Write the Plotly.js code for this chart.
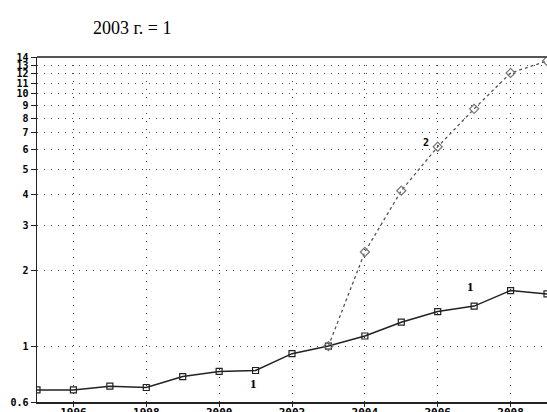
<!DOCTYPE html>
<html><head><meta charset="utf-8">
<script src="https://cdn.plot.ly/plotly-3.0.1.min.js"></script>
<style>body{margin:0;padding:0;background:#fff}#c{width:547px;height:412px}</style>
</head><body><div id="c"></div>
<script>
const years1 = [1995,1996,1997,1998,1999,2000,2001,2002,2003,2004,2005,2006,2007,2008,2009];
const series1 = [0.67,0.67,0.693,0.685,0.757,0.793,0.80,0.933,1.0,1.096,1.243,1.37,1.44,1.66,1.61];
const years2 = [2003,2004,2005,2006,2007,2008,2009];
const series2 = [1.0,2.36,4.13,6.17,8.72,12.1,13.5];
const yTicks = [0.6,1,2,3,4,5,6,7,8,9,10,11,12,13,14];
const yTickLabels = ['0.6','1','2','3','4','5','6','7','8','9','10','11','12','13','14'];
const xTicks = [1996,1998,2000,2002,2004,2006,2008];
const title = '2003 г. = 1';

const tickFont = {family:'DejaVu Sans Mono, monospace', size:10, color:'#000', weight:'bold'};
const traces = [
  {x:years1, y:series1, mode:'lines+markers', type:'scatter',
   line:{color:'#222', width:1.5},
   marker:{symbol:'square-open', size:6, color:'#222', line:{width:1.2}}},
  {x:years2, y:series2, mode:'lines+markers', type:'scatter',
   line:{color:'#555', width:1.3, dash:'dot'},
   marker:{symbol:'diamond-open', size:7, color:'#777', line:{width:1.2}}}
];
const layout = {
  width:547, height:412,
  margin:{l:37, r:0, t:57, b:10},
  showlegend:false,
  paper_bgcolor:'#fff', plot_bgcolor:'#fff',
  xaxis:{range:[1995,2009], tickvals:xTicks, ticktext:xTicks.map(String),
    showgrid:true, gridcolor:'#333', griddash:'1px,7px', gridwidth:1,
    showline:true, linecolor:'#222', linewidth:1.5, mirror:false,
    ticks:'outside', ticklen:3, tickcolor:'#222', ticklabelstandoff:-4,
    tickfont:{family:'DejaVu Sans Mono, monospace', size:11, color:'#000', weight:'bold'}, zeroline:false},
  yaxis:{type:'log', range:[Math.log10(0.6), Math.log10(14)],
    tickvals:yTicks, ticktext:yTickLabels,
    showgrid:true, gridcolor:'#555', griddash:'1px,6px', gridwidth:1,
    showline:true, linecolor:'#222', linewidth:1.5,
    ticks:'outside', ticklen:5, tickcolor:'#222', tickfont:tickFont, zeroline:false},
  shapes:[{type:'line', xref:'paper', yref:'paper', x0:0, x1:1, y0:1, y1:1,
    line:{color:'#555', width:2}}],
  annotations:[
    {text:title, xref:'paper', yref:'paper', x:0.105, y:1.0, yshift:29, xanchor:'left', yanchor:'middle', showarrow:false,
     font:{family:'Liberation Serif, Times New Roman, serif', size:18, color:'#000'}},
    {text:'2', x:2005.67, y:Math.log10(6.42), xref:'x', yref:'y', showarrow:false, font:{family:'DejaVu Sans Mono, monospace', size:10, color:'#000', weight:'bold'}},
    {text:'1', x:2000.93, y:Math.log10(0.71), xref:'x', yref:'y', showarrow:false, font:{family:'Liberation Serif, serif', size:13, color:'#000', weight:'bold'}},
    {text:'1', x:2006.9, y:Math.log10(1.73), xref:'x', yref:'y', showarrow:false, font:{family:'Liberation Serif, serif', size:13, color:'#000', weight:'bold'}}
  ]
};
Plotly.newPlot('c', traces, layout, {staticPlot:true, displayModeBar:false});
</script></body></html>
